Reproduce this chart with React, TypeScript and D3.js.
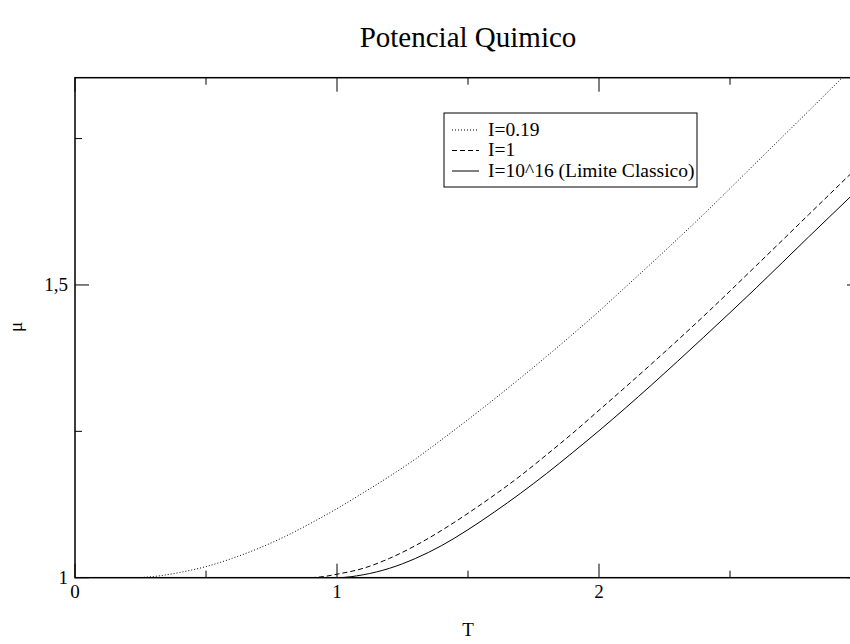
import React from "react";
import * as d3 from "d3";

const title = "Potencial Quimico";
const xLabel = "T";
const yLabel = "μ";

const xMajorTicks = [0, 1, 2, 3];
const xLabelTicks = [0, 1, 2];
const xMajorLabels = ["0", "1", "2"];
const xMinorTicks = [0.5, 1.5, 2.5];
const yMajorTicks = [1, 1.5];
const yMajorLabels = ["1", "1,5"];
const yMinorTicks = [1.25, 1.75];

const seriesNames = ["I=0.19", "I=1", "I=10^16 (Limite Classico)"];
const seriesDash = ["1 2", "5 3", "none"];

// I = 0.19 (dotted)
const tDotted = [0.24, 0.3, 0.4, 0.5, 0.6, 0.7, 0.8, 0.9, 1.0, 1.1, 1.2, 1.3, 1.4, 1.5, 1.6, 1.7, 1.8, 1.9, 2.0, 2.1, 2.2, 2.4, 2.6, 2.8, 3.0];
const muDotted = [1.0, 1.002, 1.009, 1.019, 1.033, 1.05, 1.07, 1.093, 1.118, 1.145, 1.173, 1.203, 1.236, 1.27, 1.305, 1.341, 1.378, 1.416, 1.455, 1.496, 1.537, 1.621, 1.709, 1.797, 1.886];

// I = 1 (dashed)
const tDashed = [0.9, 0.95, 1.0, 1.1, 1.2, 1.3, 1.4, 1.5, 1.6, 1.7, 1.8, 1.9, 2.0, 2.2, 2.4, 2.6, 2.8, 3.0];
const muDashed = [1.0, 1.002, 1.006, 1.016, 1.033, 1.055, 1.081, 1.11, 1.141, 1.174, 1.21, 1.247, 1.286, 1.365, 1.447, 1.533, 1.62, 1.707];

// I = 10^16 classical limit (solid)
const tSolid = [0.95, 1.0, 1.1, 1.2, 1.3, 1.4, 1.5, 1.6, 1.7, 1.8, 1.9, 2.0, 2.2, 2.4, 2.6, 2.8, 3.0];
const muSolid = [1.0, 1.0, 1.005, 1.016, 1.033, 1.055, 1.082, 1.112, 1.144, 1.178, 1.214, 1.251, 1.329, 1.411, 1.495, 1.582, 1.668];

const W = 850;
const H = 644;
const left = 75;
const right = 861;
const top = 77.7;
const bottom = 577.7;

export default function App() {
  const x = d3.scaleLinear().domain([0, 3]).range([left, right]);
  const y = d3.scaleLinear().domain([1, 1.854]).range([bottom, top]);

  const series = [
    tDotted.map((t, i) => [t, muDotted[i]] as [number, number]),
    tDashed.map((t, i) => [t, muDashed[i]] as [number, number]),
    tSolid.map((t, i) => [t, muSolid[i]] as [number, number]),
  ];
  const line = d3
    .line<[number, number]>()
    .x((d) => x(d[0]))
    .y((d) => y(d[1]))
    .curve(d3.curveMonotoneX);

  const font = "'Liberation Serif', 'Times New Roman', serif";
  const major = 14;
  const minor = 7;

  return (
    <svg
      width={W}
      height={H}
      style={{ position: "absolute", left: 0, top: 0, background: "#fff" }}
      fontFamily={font}
    >
      <rect x={0} y={0} width={W} height={H} fill="#fff" />
      <defs>
        <clipPath id="plot">
          <rect x={left} y={top} width={right - left} height={bottom - top} />
        </clipPath>
      </defs>

      <text x={(left + right) / 2} y={47} textAnchor="middle" fontSize={29}>
        {title}
      </text>

      <g clipPath="url(#plot)">
        {series.map((s, i) => (
          <path
            key={i}
            d={line(s) || ""}
            fill="none"
            stroke="#000"
            strokeWidth={1}
            strokeDasharray={seriesDash[i]}
          />
        ))}
      </g>

      <rect
        x={left}
        y={top}
        width={right - left}
        height={bottom - top}
        fill="none"
        stroke="#000"
        strokeWidth={1.5}
      />

      {xMajorTicks.map((t) => (
        <g key={"xm" + t}>
          <line x1={x(t)} x2={x(t)} y1={bottom} y2={bottom - major} stroke="#000" />
          <line x1={x(t)} x2={x(t)} y1={top} y2={top + major} stroke="#000" />
        </g>
      ))}
      {xMinorTicks.map((t) => (
        <g key={"xn" + t}>
          <line x1={x(t)} x2={x(t)} y1={bottom} y2={bottom - minor} stroke="#000" />
          <line x1={x(t)} x2={x(t)} y1={top} y2={top + minor} stroke="#000" />
        </g>
      ))}
      {yMajorTicks.map((v) => (
        <g key={"ym" + v}>
          <line x1={left} x2={left + major} y1={y(v)} y2={y(v)} stroke="#000" />
          <line x1={right} x2={right - major} y1={y(v)} y2={y(v)} stroke="#000" />
        </g>
      ))}
      {yMinorTicks.map((v) => (
        <g key={"yn" + v}>
          <line x1={left} x2={left + minor} y1={y(v)} y2={y(v)} stroke="#000" />
          <line x1={right} x2={right - minor} y1={y(v)} y2={y(v)} stroke="#000" />
        </g>
      ))}

      {xLabelTicks.map((t, i) => (
        <text key={"xl" + t} x={x(t)} y={598} textAnchor="middle" fontSize={19}>
          {xMajorLabels[i]}
        </text>
      ))}
      {yMajorTicks.map((v, i) => (
        <text key={"yl" + v} x={68} y={y(v) + 6} textAnchor="end" fontSize={19}>
          {yMajorLabels[i]}
        </text>
      ))}

      <text x={(left + right) / 2} y={636} textAnchor="middle" fontSize={19}>
        {xLabel}
      </text>
      <text
        transform={`translate(22, 327) rotate(-90)`}
        textAnchor="middle"
        fontSize={19}
      >
        {yLabel}
      </text>

      <g>
        <rect x={444} y={113} width={253} height={74} fill="#fff" stroke="#000" strokeWidth={1} />
        {seriesNames.map((name, i) => {
          const cy = 130 + i * 20.5;
          return (
            <g key={name}>
              <line
                x1={452}
                x2={479}
                y1={cy}
                y2={cy}
                stroke="#000"
                strokeWidth={1}
                strokeDasharray={seriesDash[i]}
              />
              <text x={488} y={cy + 5.5} fontSize={19.5}>
                {name}
              </text>
            </g>
          );
        })}
      </g>
    </svg>
  );
}
